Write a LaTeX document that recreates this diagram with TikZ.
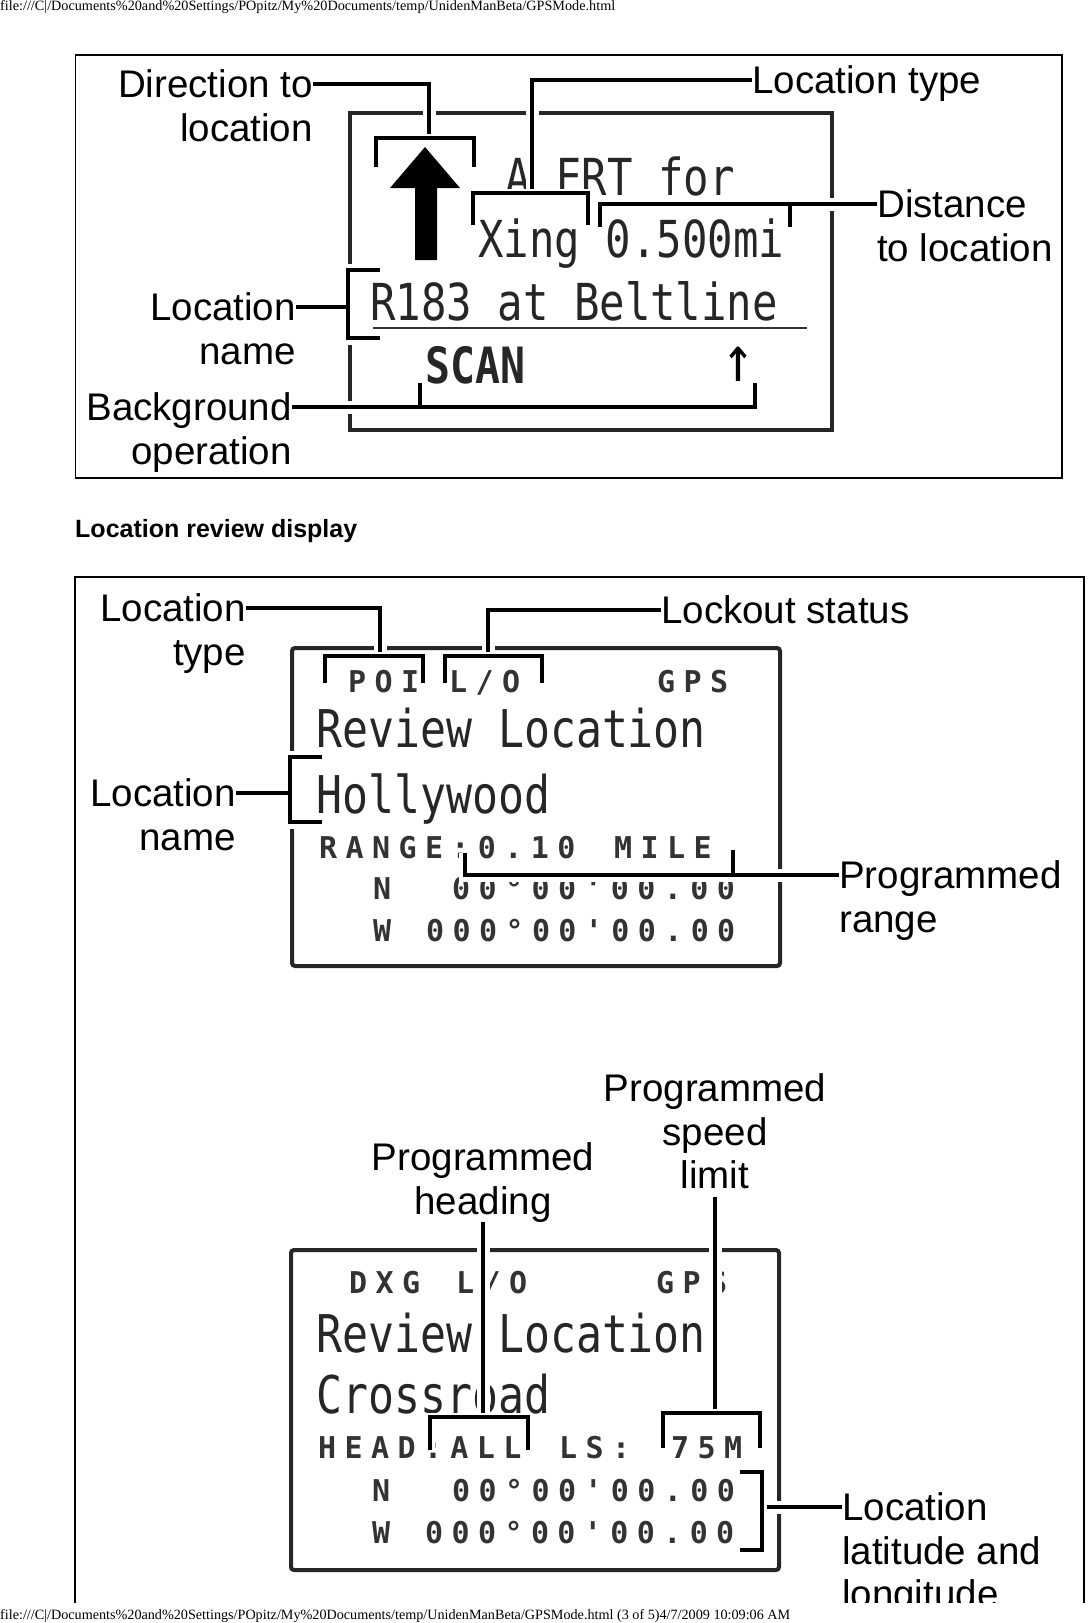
\documentclass[tikz,border=0pt]{standalone}
\usepackage{fontspec}
\setmainfont{Liberation Sans}
\newfontfamily\lcdfont[FakeStretch=0.83]{DejaVu Sans Mono}
\newfontfamily\lcdsmallfont[LetterSpace=28]{DejaVu Sans Mono}
\newfontfamily\pagefont{Liberation Serif}
\usetikzlibrary{positioning}

\begin{document}
\begin{tikzpicture}[x=1pt, y=-1pt,
        lbl/.style={font=\fontsize{38.5}{43}\selectfont, inner sep=0pt, text height=35.3pt, text depth=7.7pt},
        lcdbig/.style={font=\lcdfont\fontsize{51}{55}\selectfont, inner sep=0pt, anchor=base west, text=black!85},
        lcdrev/.style={lcdbig, font=\lcdfont\fontsize{52}{56}\selectfont},
        lcdsmall/.style={font=\lcdsmallfont\bfseries\fontsize{30}{32}\selectfont, inner sep=0pt, anchor=base west, text=black!80},
        lcdframe/.style={draw=black!85, line width=3.2pt},
        brk/.style={line width=4.5pt, preaction={draw=white, line width=9pt}},
        lead/.style={line width=4.5pt, preaction={draw=white, line width=13pt}},
        panel/.style={draw=black, line width=1.5pt}]
    \useasboundingbox (0,0) rectangle (1089,1623);

    % page header
    \node[anchor=west, inner sep=0pt] (pgtop) at (0,7) {\resizebox{615pt}{!}{\pagefont\fontsize{15}{15}\selectfont file:///C|/Documents\%20and\%20Settings/POpitz/My\%20Documents/temp/UnidenManBeta/GPSMode.html}};

    % 1st display: alert
    \draw[panel] (75.5,55) rectangle (1062,478);
    \draw[lcdframe] (350,113) rectangle (832,430);
    \fill[black] (425,147) -- (460,188) -- (437,188) -- (437,260) -- (415,260) -- (415,188) -- (390,188) -- cycle;
    \node[lcdbig] (alert) at (505,195) {ALERT for};
    \node[lcdbig] (xing) at (478,257) {Xing 0.500mi};
    \node[lcdbig] (locname) at (370,320) {R183 at Beltline};
    \draw[line width=2pt, black!80] (373,328) -- (807,328);
    \node[lcdbig, font=\lcdfont\bfseries\fontsize{50}{55}\selectfont] (scan) at (425,383) {SCAN};
    \node[inner sep=0pt, font=\lcdfont\fontsize{64}{66}\selectfont] (small arrow) at (738,364) {↑};

    \node[lbl, anchor=east] (dirA) at (313,84) {Direction to};
    \node[lbl, below left=0pt and 0pt of dirA.south east] (dirB) {location};
    \node[lbl, anchor=west] (typeA) at (752,80) {Location type};
    \node[lbl, anchor=west] (distA) at (877,204) {Distance};
    \node[lbl, below right=0pt and 0pt of distA.south west] (distB) {to location};
    \node[lbl, anchor=east] (nameA) at (296,307) {Location};
    \node[lbl, below left=0pt and 0pt of nameA.south east] (nameB) {name};
    \node[lbl, anchor=east] (bgA) at (292,407) {Background};
    \node[lbl, below left=0pt and 0pt of bgA.south east] (bgB) {operation};

    \draw[lead] (dirA.east) -| (429,138);
    \draw[brk] (376,167) |- (474,138) -- (474,167);
    \draw[lead] (typeA.west) -| (532,193);
    \draw[brk] (473,225) |- (588,193) -- (588,225);
    \draw[lead] (distA.west) -| (600,227) (790,204) -- (790,227);
    \draw[lead] (nameA.east) -- (348,307) (380,270) -| (348,338) -- (380,338);
    \draw[lead] (bgA.east) -| (755,383) (420,407) -- (420,383);

    % heading
    \node[anchor=base west, inner sep=0pt, font=\bfseries\fontsize{25}{28}\selectfont] (title) at (75,537) {Location review display};

    \begin{scope}
        \clip (0,0) rectangle (1089,1602);
        \draw[panel] (75,1610) -- (75,577) -- (1084,577) -- (1084,1610);

        % 2nd display: point of interest
        \draw[lcdframe, line width=4pt, rounded corners=3pt] (292,648) rectangle (780,966);
        \node[lcdsmall] (poi) at (348,692) {POI};
        \node[lcdsmall] (lockA) at (449,692) {L/O};
        \node[lcdsmall] (gpsA) at (657,692) {GPS};
        \node[lcdrev] (reviewA) at (316,747) {Review Location};
        \node[lcdrev] (holly) at (316,813) {Hollywood};
        \node[lcdsmall] (range) at (319,858) {RANGE:0.10};
        \node[lcdsmall] (mile) at (614,858) {MILE};
        \node[lcdsmall] (latA) at (373,899) {N};
        \node[lcdsmall] (latvalA) at (452,899) {00°00'00.00};
        \node[lcdsmall] (lonA) at (373,941) {W};
        \node[lcdsmall] (lonvalA) at (426,941) {000°00'00.00};

        \node[lbl, anchor=east] (ltypeA) at (246,608) {Location};
        \node[lbl, below left=0pt and 0pt of ltypeA.south east] (ltypeB) {type};
        \node[lbl, anchor=west] (lockout) at (661,610) {Lockout status};
        \node[lbl, anchor=east] (lnameA) at (236,793) {Location};
        \node[lbl, below left=0pt and 0pt of lnameA.south east] (lnameB) {name};
        \node[lbl, anchor=west] (rangeA) at (839,875) {Programmed};
        \node[lbl, below right=0pt and 0pt of rangeA.south west] (rangeB) {range};

        \draw[lead] (ltypeA.east) -| (380,656);
        \draw[brk] (325,683) |- (423,656) -- (423,683);
        \draw[lead] (lockout.west) -| (488,656);
        \draw[brk] (445,683) |- (542,656) -- (542,683);
        \draw[lead] (lnameA.east) -- (290,793) (322,757) -| (290,822) -- (322,822);
        \draw[lead] (rangeA.west) -| (465,853) (733,875) -- (733,850);

        % 3rd display: crossroad
        \draw[lcdframe, line width=4pt, rounded corners=3pt] (291,1250) rectangle (779,1570);
        \node[lcdsmall] (dxg) at (349,1293) {DXG};
        \node[lcdsmall] (lockB) at (456,1293) {L/O};
        \node[lcdsmall] (gpsB) at (656,1293) {GPS};
        \node[lcdrev] (reviewB) at (316,1352) {Review Location};
        \node[lcdrev] (cross) at (316,1413) {Crossroad};
        \node[lcdsmall] (head) at (318,1458) {HEAD:ALL};
        \node[lcdsmall] (ls) at (559,1458) {LS:};
        \node[lcdsmall] (limit) at (671,1458) {75M};
        \node[lcdsmall] (latB) at (372,1501) {N};
        \node[lcdsmall] (latvalB) at (452,1501) {00°00'00.00};
        \node[lcdsmall] (lonB) at (372,1543) {W};
        \node[lcdsmall] (lonvalB) at (425,1543) {000°00'00.00};

        \node[lbl] (headA) at (483,1157) {Programmed};
        \node[lbl, below=0pt of headA] (headB) {heading};
        \node[lbl] (speedA) at (715,1088) {Programmed};
        \node[lbl, below=0pt of speedA] (speedB) {speed};
        \node[lbl, below=0pt of speedB] (speedC) {limit};
        \node[lbl, anchor=west] (coordA) at (842,1507) {Location};
        \node[lbl, below right=0pt and 0pt of coordA.south west] (coordB) {latitude and};
        \node[lbl, below right=0pt and 0pt of coordB.south west] (coordC) {longitude};

        \draw[lead] (headB.south) -- (483,1417);
        \draw[brk] (430,1450) |- (528,1417) -- (528,1450);
        \draw[lead] (speedC.south) -- (715,1413);
        \draw[brk] (663,1448) |- (760,1413) -- (760,1448);
        \draw[lead] (coordA.west) -- (762,1507);
        \draw[brk] (740,1472) -| (762,1550) -- (740,1550);
    \end{scope}

    % page footer
    \node[anchor=west, inner sep=0pt] (pgbottom) at (0,1616) {\resizebox{790pt}{!}{\pagefont\fontsize{15}{15}\selectfont file:///C|/Documents\%20and\%20Settings/POpitz/My\%20Documents/temp/UnidenManBeta/GPSMode.html (3 of 5)4/7/2009 10:09:06 AM}};
\end{tikzpicture}
\end{document}
